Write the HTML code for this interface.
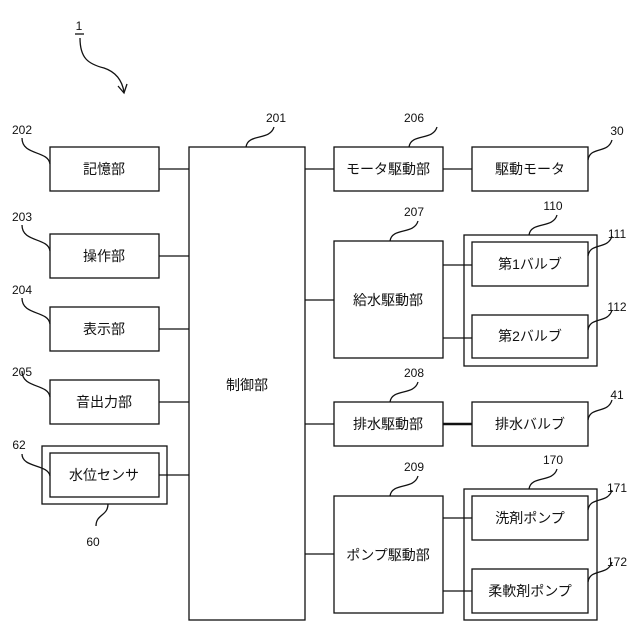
<!DOCTYPE html>
<html><head><meta charset="utf-8"><style>
html,body{margin:0;padding:0;background:#fff}
svg{display:block}
text{font-family:"Liberation Sans","Noto Sans CJK JP",sans-serif;fill:#111}
.b{font-size:14px;text-anchor:middle;dominant-baseline:central}
.n{font-size:12px;text-anchor:middle}
</style></head><body>
<svg width="640" height="640" viewBox="0 0 640 640" xmlns="http://www.w3.org/2000/svg">
<g fill="none" stroke="#111" stroke-width="1.3">
<rect x="50" y="147" width="109" height="44"/>
<rect x="50" y="234" width="109" height="44"/>
<rect x="50" y="307" width="109" height="44"/>
<rect x="50" y="380" width="109" height="44"/>
<rect x="42" y="446" width="125" height="58"/>
<rect x="50" y="453" width="109" height="44"/>
<rect x="189" y="147" width="116" height="473"/>
<rect x="334" y="147" width="109" height="44"/>
<rect x="334" y="241" width="109" height="117"/>
<rect x="334" y="402" width="109" height="44"/>
<rect x="334" y="496" width="109" height="117"/>
<rect x="472" y="147" width="116" height="44"/>
<rect x="464" y="235" width="133" height="131"/>
<rect x="472" y="242" width="116" height="44"/>
<rect x="472" y="315" width="116" height="43"/>
<rect x="472" y="402" width="116" height="44"/>
<rect x="464" y="489" width="133" height="131"/>
<rect x="472" y="496" width="116" height="44"/>
<rect x="472" y="569" width="116" height="44"/>
<path d="M159 169H189M159 256H189M159 329H189M159 402H189M159 475H189"/>
<path d="M305 169H334M305 300H334M305 424H334M305 554H334"/>
<path d="M443 169H472M443 265H472M443 338H472M443 518H472M443 591H472"/>
<path d="M443 424H472" stroke-width="2.5"/>
<path d="M22 138c0 18 26 12 28 26M22 225c0 18 26 12 28 26M22 298c0 18 26 12 28 26M22 371c0 18 26 12 28 26M22 454c0 14 26 10 28 22"/>
<path d="M246 147c2 -14 24 -6 28 -20M390 241c2 -14 24 -6 28 -20M390 402c2 -14 24 -6 28 -20M390 496c2 -14 24 -6 28 -20"/>
<path d="M409 147c2 -14 24 -6 28 -20M529 235c2 -14 24 -6 28 -20M529 489c2 -14 24 -6 28 -20"/>
<path d="M588 160c2 -14 20 -6 24 -20M588 256c2 -14 20 -6 24 -20M588 330c2 -14 20 -6 24 -20M588 420c2 -14 20 -6 24 -20M588 510c2 -14 20 -6 24 -20M588 582c2 -14 20 -6 24 -20"/>
<path d="M108 504c0 12 -12 10 -12 22"/>
<path d="M80 38c0 20 8 26 24 30c12 4 18 12 20 24"/>
<path d="M118 86l6 7l3 -9"/>
<path d="M75 34h9"/>
</g>
<text x="79" y="30" class="n">1</text>
<text x="22" y="134" class="n">202</text>
<text x="22" y="221" class="n">203</text>
<text x="22" y="294" class="n">204</text>
<text x="22" y="376" class="n">205</text>
<text x="19" y="449" class="n">62</text>
<text x="93" y="546" class="n">60</text>
<text x="276" y="122" class="n">201</text>
<text x="414" y="122" class="n">206</text>
<text x="414" y="216" class="n">207</text>
<text x="414" y="377" class="n">208</text>
<text x="414" y="471" class="n">209</text>
<text x="617" y="135" class="n">30</text>
<text x="553" y="210" class="n">110</text>
<text x="617" y="238" class="n">111</text>
<text x="617" y="311" class="n">112</text>
<text x="617" y="399" class="n">41</text>
<text x="553" y="464" class="n">170</text>
<text x="617" y="492" class="n">171</text>
<text x="617" y="566" class="n">172</text>
<text x="104" y="169" class="b">記憶部</text>
<text x="104" y="256" class="b">操作部</text>
<text x="104" y="329" class="b">表示部</text>
<text x="104" y="402" class="b">音出力部</text>
<text x="104" y="475" class="b">水位センサ</text>
<text x="247" y="385" class="b">制御部</text>
<text x="388" y="169" class="b">モータ駆動部</text>
<text x="388" y="300" class="b">給水駆動部</text>
<text x="388" y="424" class="b">排水駆動部</text>
<text x="388" y="555" class="b">ポンプ駆動部</text>
<text x="530" y="169" class="b">駆動モータ</text>
<text x="530" y="264" class="b">第1バルブ</text>
<text x="530" y="336" class="b">第2バルブ</text>
<text x="530" y="424" class="b">排水バルブ</text>
<text x="530" y="518" class="b">洗剤ポンプ</text>
<text x="530" y="591" class="b">柔軟剤ポンプ</text>
</svg>
</body></html>
